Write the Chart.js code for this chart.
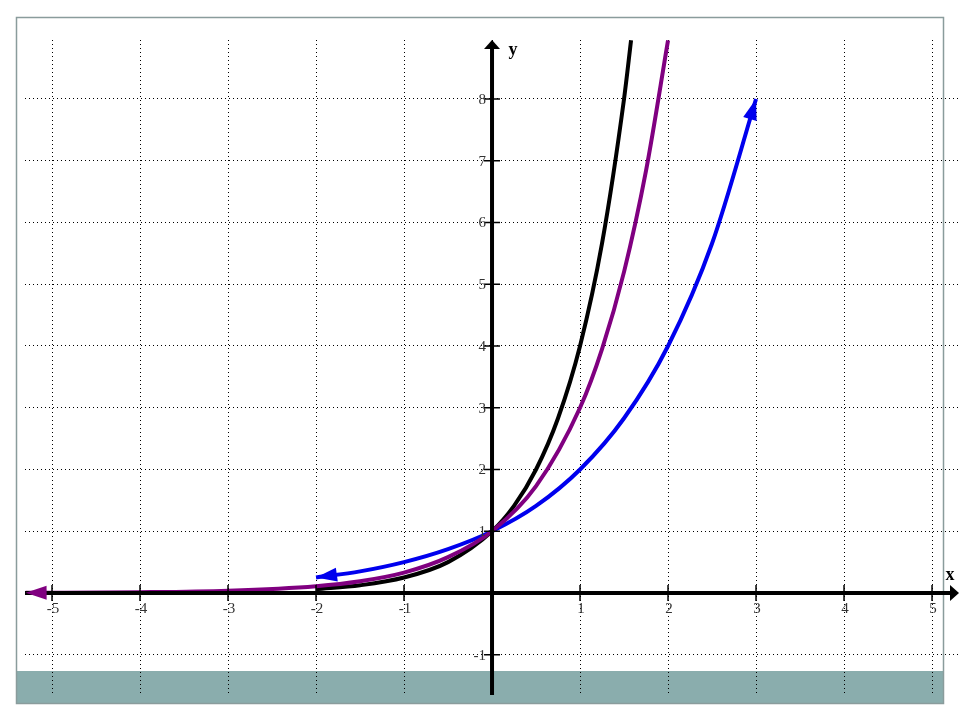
<!DOCTYPE html>
<html>
<head>
<meta charset="utf-8">
<script src="https://cdn.jsdelivr.net/npm/chart.js@4/dist/chart.umd.min.js"></script>
<style>
  html, body { margin: 0; padding: 0; background: #fff; }
  canvas { display: block; }
</style>
</head>
<body>
<canvas id="chart" width="960" height="720"></canvas>
<script>
// values
const xTicks = [-5, -4, -3, -2, -1, 1, 2, 3, 4, 5];
const yTicks = [-1, 1, 2, 3, 4, 5, 6, 7, 8];

// blue curve (2^x)
const blueX = [-2, -1.5, -1, -0.5, 0, 0.5, 1, 1.5, 2, 2.5, 3];
const blueY = [0.25, 0.35, 0.5, 0.71, 1, 1.41, 2, 2.83, 4, 5.66, 8];

// purple curve (3^x)
const purpleX = [-5.3, -4, -3, -2, -1.5, -1, -0.5, 0, 0.5, 1, 1.25, 1.5, 1.75, 2];
const purpleY = [0.003, 0.012, 0.037, 0.11, 0.19, 0.33, 0.58, 1, 1.73, 3, 3.95, 5.2, 6.84, 8.95];

// black curve (4^x)
const blackX = [-2, -1.5, -1, -0.5, 0, 0.25, 0.5, 0.75, 1, 1.25, 1.5, 1.58];
const blackY = [0.06, 0.125, 0.25, 0.5, 1, 1.41, 2, 2.83, 4, 5.66, 8, 8.95];

function pts(xs, ys) {
  return xs.map((x, i) => ({ x: x, y: ys[i] }));
}

// frame + teal band behind everything
const framePlugin = {
  id: "frame",
  beforeDraw(chart) {
    const ctx = chart.ctx;
    ctx.save();
    ctx.fillStyle = "#fff";
    ctx.fillRect(0, 0, chart.width, chart.height);
    ctx.fillStyle = "#8aadad";
    ctx.fillRect(16, 671, 927, 33);
    ctx.strokeStyle = "#8a9c9c";
    ctx.lineWidth = 1.5;
    ctx.strokeRect(16.5, 17.5, 927, 686);
    ctx.restore();
  }
};

function tri(ctx, tipX, tipY, dx, dy, len, half, color) {
  const l = Math.hypot(dx, dy) || 1;
  const ux = dx / l, uy = dy / l;
  const bx = tipX - ux * len, by = tipY - uy * len;
  ctx.beginPath();
  ctx.moveTo(tipX, tipY);
  ctx.lineTo(bx - uy * half, by + ux * half);
  ctx.lineTo(bx + uy * half, by - ux * half);
  ctx.closePath();
  ctx.fillStyle = color;
  ctx.fill();
}

// axes through the origin (drawn over the curves), ticks, labels, arrowheads
const axesPlugin = {
  id: "axes",
  afterDatasetsDraw(chart) {
    const ctx = chart.ctx;
    const xs = chart.scales.x, ys = chart.scales.y;
    const ox = xs.getPixelForValue(0), oy = ys.getPixelForValue(0);
    const a = chart.chartArea;
    ctx.save();
    ctx.strokeStyle = "#000";
    ctx.lineWidth = 4;
    ctx.beginPath();
    ctx.moveTo(a.left, oy);
    ctx.lineTo(a.right - 6, oy);
    ctx.moveTo(ox, a.bottom);
    ctx.lineTo(ox, a.top + 6);
    ctx.stroke();
    tri(ctx, a.right + 1, oy, 1, 0, 9, 8, "#000");
    tri(ctx, ox, a.top, 0, -1, 9, 8, "#000");

    ctx.lineWidth = 1.5;
    ctx.beginPath();
    xTicks.forEach(v => {
      const px = xs.getPixelForValue(v);
      ctx.moveTo(px, oy - 8);
      ctx.lineTo(px, oy + 8);
    });
    yTicks.forEach(v => {
      const py = ys.getPixelForValue(v);
      ctx.moveTo(ox - 8, py);
      ctx.lineTo(ox + 8, py);
    });
    ctx.stroke();

    ctx.fillStyle = "#333";
    ctx.font = "15px 'Liberation Serif', serif";
    ctx.textAlign = "center";
    ctx.textBaseline = "middle";
    xTicks.forEach(v => {
      ctx.fillText(String(v), xs.getPixelForValue(v) + 1, oy + 16);
    });
    ctx.textAlign = "right";
    yTicks.forEach(v => {
      ctx.fillText(String(v), ox - 6, ys.getPixelForValue(v) + 1);
    });

    ctx.fillStyle = "#000";
    ctx.font = "bold 18px 'Liberation Serif', serif";
    ctx.textAlign = "center";
    ctx.fillText("y", ox + 21, a.top + 10);
    ctx.fillText("x", a.right - 8, oy - 18);

    // arrowheads at curve ends, along the curve tangent
    chart.data.datasets.forEach((ds, i) => {
      const els = chart.getDatasetMeta(i).data;
      const color = ds.borderColor;
      if (ds.arrowEnd) {
        const p = els[els.length - 1], q = els[els.length - 2];
        let dx = p.x - p.cp1x, dy = p.y - p.cp1y;
        if (!isFinite(dx) || Math.hypot(dx, dy) < 0.5) { dx = p.x - q.x; dy = p.y - q.y; }
        tri(ctx, p.x, p.y, dx, dy, 21, 7, color);
      }
      if (ds.arrowStart) {
        const p = els[0], q = els[1];
        let dx = p.x - p.cp2x, dy = p.y - p.cp2y;
        if (!isFinite(dx) || Math.hypot(dx, dy) < 0.5) { dx = p.x - q.x; dy = p.y - q.y; }
        tri(ctx, p.x, p.y, dx, dy, 21, 7, color);
      }
    });
    ctx.restore();
  }
};

const lineStyle = {
  borderWidth: 4,
  pointRadius: 0,
  fill: false,
  cubicInterpolationMode: "monotone",
  clip: 4
};

new Chart(document.getElementById("chart"), {
  type: "line",
  data: {
    datasets: [
      Object.assign({ label: "3^x", data: pts(purpleX, purpleY), borderColor: "#800080", arrowStart: true }, lineStyle),
      Object.assign({ label: "2^x", data: pts(blueX, blueY), borderColor: "#0000ee", arrowStart: true, arrowEnd: true }, lineStyle),
      Object.assign({ label: "4^x", data: pts(blackX, blackY), borderColor: "#000000" }, lineStyle)
    ]
  },
  options: {
    responsive: false,
    animation: false,
    layout: { padding: { left: 25, right: 2, top: 40, bottom: 25 } },
    plugins: { legend: { display: false }, tooltip: { enabled: false } },
    scales: {
      x: {
        type: "linear",
        min: -5.307,
        max: 5.295,
        ticks: { display: false, stepSize: 1, includeBounds: false },
        grid: { color: "#000", lineWidth: 1, drawTicks: false },
        border: { display: false, dash: [1, 3] }
      },
      y: {
        type: "linear",
        min: -1.652,
        max: 8.955,
        ticks: { display: false, stepSize: 1, includeBounds: false },
        grid: { color: "#000", lineWidth: 1, drawTicks: false },
        border: { display: false, dash: [1, 3] }
      }
    }
  },
  plugins: [framePlugin, axesPlugin]
});
</script>
</body>
</html>
